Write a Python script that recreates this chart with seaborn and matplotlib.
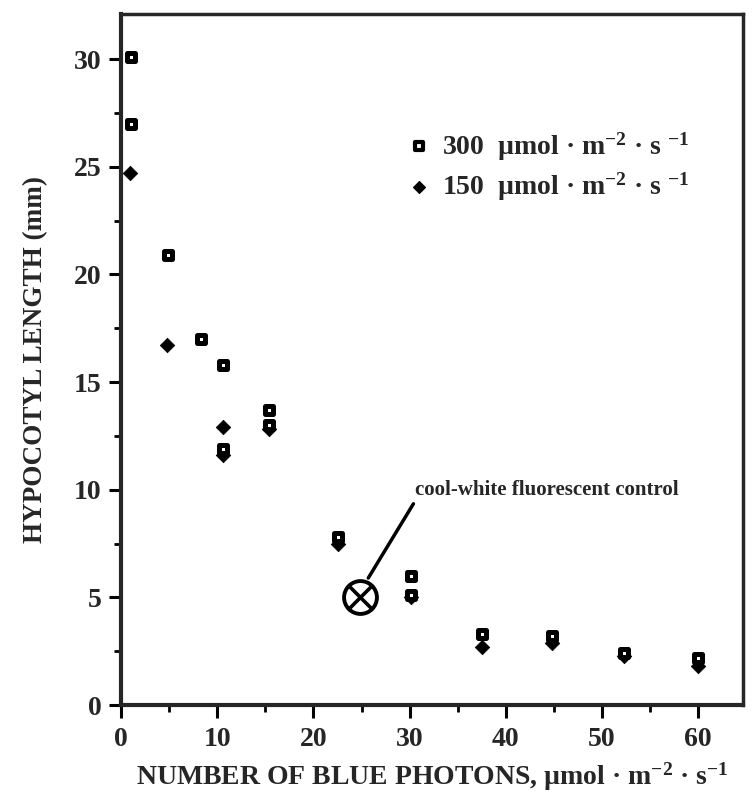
import matplotlib

matplotlib.use("Agg")
import matplotlib.pyplot as plt
import numpy as np
import pandas as pd
import seaborn as sns
from matplotlib.ticker import MultipleLocator

# hypocotyl length vs. blue photon flux, two total PPF levels
x_300 = [1.0, 1.0, 4.9, 8.3, 10.6, 10.6, 15.4, 15.4, 22.6, 30.1, 30.1, 37.5, 44.8, 52.3, 60.0]
y_300 = [30.1, 27.0, 20.9, 17.0, 15.8, 11.9, 13.7, 13.0, 7.8, 6.0, 5.1, 3.3, 3.2, 2.4, 2.2]
x_150 = [0.9, 4.8, 10.6, 10.6, 15.4, 22.6, 30.1, 37.5, 44.8, 52.3, 60.0]
y_150 = [24.7, 16.7, 12.9, 11.6, 12.8, 7.5, 5.0, 2.7, 2.9, 2.3, 1.8]
x_ctrl = [24.8]
y_ctrl = [5.0]

unit = "\u00b5mol \u00b7 m$^{-2}$ \u00b7 s $^{-1}$"
lbl_300 = "300  " + unit
lbl_150 = "150  " + unit
xlab = "NUMBER OF BLUE PHOTONS, \u00b5mol \u00b7 m$^{-2}$ \u00b7 s$^{-1}$"
ylab = "HYPOCOTYL LENGTH (mm)"

sns.set_style("ticks")
plt.rcParams["font.family"] = ["Liberation Serif", "DejaVu Serif"]
plt.rcParams["font.weight"] = "bold"
plt.rcParams["mathtext.fontset"] = "custom"
plt.rcParams["mathtext.rm"] = "Liberation Serif:bold"
plt.rcParams["mathtext.it"] = "Liberation Serif:bold"
plt.rcParams["mathtext.bf"] = "Liberation Serif:bold"

d300 = pd.DataFrame({"x": x_300, "y": y_300})
d150 = pd.DataFrame({"x": x_150, "y": y_150})
dctl = pd.DataFrame({"x": x_ctrl, "y": y_ctrl})

fig = plt.figure(figsize=(7.53, 7.99), dpi=100)
ax = fig.add_axes([0.161, 0.1176, 0.826, 0.865])

sns.scatterplot(data=d150, x="x", y="y", marker="D", s=55, color="black",
                edgecolor="black", linewidth=0.5, ax=ax, zorder=3)
sns.scatterplot(data=d300, x="x", y="y", marker="s", s=40, color="white",
                edgecolor="black", linewidth=3.6, ax=ax, zorder=4)
sns.scatterplot(data=dctl, x="x", y="y", marker="o", s=560, color="white",
                edgecolor="black", linewidth=2.8, ax=ax, zorder=4)
sns.scatterplot(data=dctl, x="x", y="y", marker="x", s=230, color="black",
                linewidth=2.6, ax=ax, zorder=5)

ax.annotate("cool-white fluorescent control", xy=(25.7, 5.9), xytext=(30.6, 9.5),
            fontsize=15, fontweight="bold", ha="left", va="bottom",
            arrowprops=dict(arrowstyle="-", lw=2.5, color="black", shrinkA=0, shrinkB=0,
                            relpos=(0.0, 0.0)))

# legend drawn as marker + text like the original figure
ax.scatter([31.0], [25.95], marker="s", s=30, color="white", edgecolor="black", linewidth=3.0)
ax.scatter([31.0], [24.05], marker="D", s=35, color="black")
ax.text(33.4, 25.95, lbl_300, fontsize=20, fontweight="bold", va="center", ha="left")
ax.text(33.4, 24.05, lbl_150, fontsize=20, fontweight="bold", va="center", ha="left")

ax.set_xlim(0, 64.7)
ax.set_ylim(0, 32.1)
ax.xaxis.set_major_locator(MultipleLocator(10))
ax.xaxis.set_minor_locator(MultipleLocator(5))
ax.yaxis.set_major_locator(MultipleLocator(5))
ax.yaxis.set_minor_locator(MultipleLocator(2.5))
ax.tick_params(which="major", direction="out", length=9, width=2.2, labelsize=20, color="black")
ax.tick_params(which="minor", direction="out", length=5, width=2.0, color="black")
ax.tick_params(axis="x", pad=7)
ax.tick_params(axis="y", pad=5)
for lab in ax.get_xticklabels() + ax.get_yticklabels():
    lab.set_fontweight("bold")

for side in ["left", "bottom"]:
    ax.spines[side].set_linewidth(3.0)
for side in ["top", "right"]:
    ax.spines[side].set_linewidth(2.5)
    ax.spines[side].set_visible(True)

ax.set_xlabel(xlab, fontsize=20, fontweight="bold", labelpad=6)
ax.set_ylabel(ylab, fontsize=19.5, fontweight="bold", labelpad=19)

fig.savefig("out.png", dpi=100)
